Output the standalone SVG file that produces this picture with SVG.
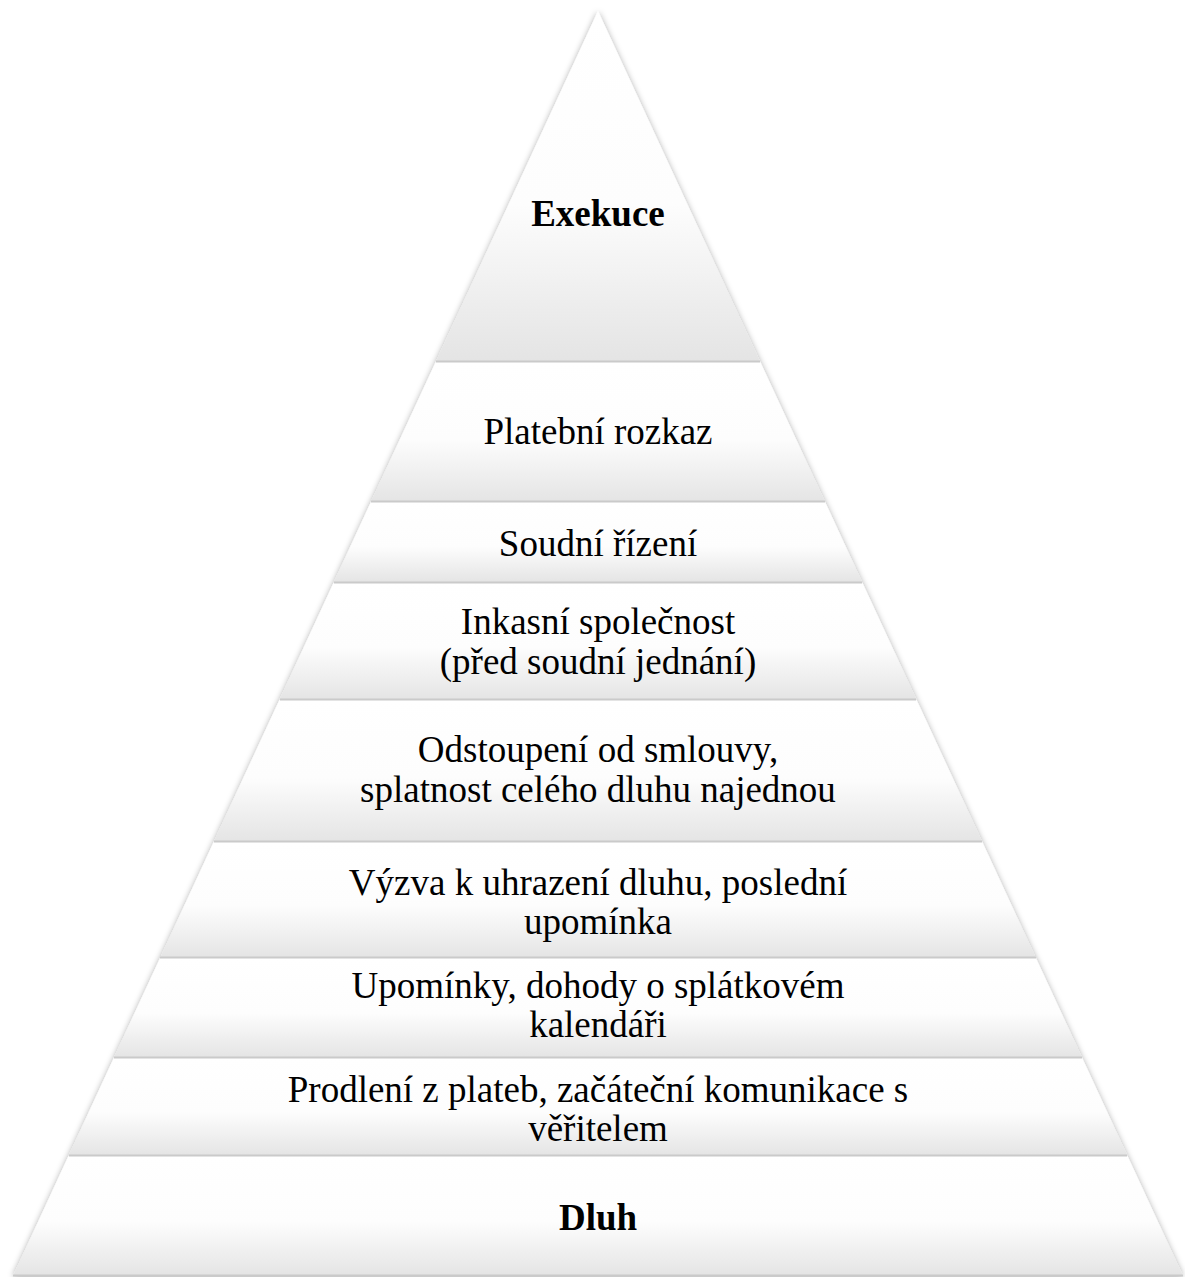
<svg xmlns="http://www.w3.org/2000/svg" width="1185" height="1277" viewBox="0 0 1185 1277">
<style>
.seg{fill:url(#g);}
.sep{stroke:#cacaca;stroke-width:2;fill:none;}
.t{font-family:"Liberation Serif","Times New Roman",serif;font-size:37px;fill:#000;text-anchor:middle;}
.b{font-weight:bold;}
</style>
<defs>
<linearGradient id="g" x1="0" y1="0" x2="0" y2="1">
<stop offset="0" stop-color="#ffffff"/>
<stop offset="0.55" stop-color="#fdfdfd"/>
<stop offset="1" stop-color="#e4e4e4"/>
</linearGradient>
<filter id="sh" x="-5%" y="-5%" width="110%" height="110%">
<feDropShadow dx="0" dy="1" stdDeviation="3" flood-color="#000" flood-opacity="0.35"/>
</filter>
</defs>
<rect width="1185" height="1277" fill="#fff"/>
<g filter="url(#sh)">
<g id="n1"><polygon class="seg" points="598,11 760.3,362 435.7,362"/></g>
<g id="n2"><polygon class="seg" points="435.7,362 760.3,362 825.1,502 370.9,502"/></g>
<g id="n3"><polygon class="seg" points="370.9,502 825.1,502 862.5,583 333.5,583"/></g>
<g id="n4"><polygon class="seg" points="333.5,583 862.5,583 916.6,700 279.4,700"/></g>
<g id="n5"><polygon class="seg" points="279.4,700 916.6,700 982.3,842 213.7,842"/></g>
<g id="n6"><polygon class="seg" points="213.7,842 982.3,842 1035.9,958 160.1,958"/></g>
<g id="n7"><polygon class="seg" points="160.1,958 1035.9,958 1082.2,1058 113.8,1058"/></g>
<g id="n8"><polygon class="seg" points="113.8,1058 1082.2,1058 1127.5,1156 68.5,1156"/></g>
<g id="n9"><polygon class="seg" points="68.5,1156 1127.5,1156 1183,1276 13,1276"/></g>
</g>
<g id="connectors">
<line class="sep" x1="436" y1="361.5" x2="760" y2="361.5"/>
<line class="sep" x1="371" y1="501.5" x2="825" y2="501.5"/>
<line class="sep" x1="334" y1="582.5" x2="862" y2="582.5"/>
<line class="sep" x1="280" y1="699.5" x2="916" y2="699.5"/>
<line class="sep" x1="214" y1="841.5" x2="982" y2="841.5"/>
<line class="sep" x1="160" y1="957.5" x2="1036" y2="957.5"/>
<line class="sep" x1="114" y1="1057.5" x2="1082" y2="1057.5"/>
<line class="sep" x1="69" y1="1155.5" x2="1127" y2="1155.5"/>
<line class="sep" x1="13" y1="1275.5" x2="1183" y2="1275.5"/>
</g>
<g id="labels">
<text class="t b" x="598" y="226">Exekuce</text>
<text class="t" x="598" y="444">Platební rozkaz</text>
<text class="t" x="598" y="556">Soudní řízení</text>
<text class="t" x="598" y="634">Inkasní společnost</text>
<text class="t" x="598" y="674">(před soudní jednání)</text>
<text class="t" x="598" y="762">Odstoupení od smlouvy,</text>
<text class="t" x="598" y="802">splatnost celého dluhu najednou</text>
<text class="t" x="598" y="895">Výzva k uhrazení dluhu, poslední</text>
<text class="t" x="598" y="934">upomínka</text>
<text class="t" x="598" y="998">Upomínky, dohody o splátkovém</text>
<text class="t" x="598" y="1037">kalendáři</text>
<text class="t" x="598" y="1102">Prodlení z plateb, začáteční komunikace s</text>
<text class="t" x="598" y="1141">věřitelem</text>
<text class="t b" x="598" y="1230">Dluh</text>
</g>
</svg>
